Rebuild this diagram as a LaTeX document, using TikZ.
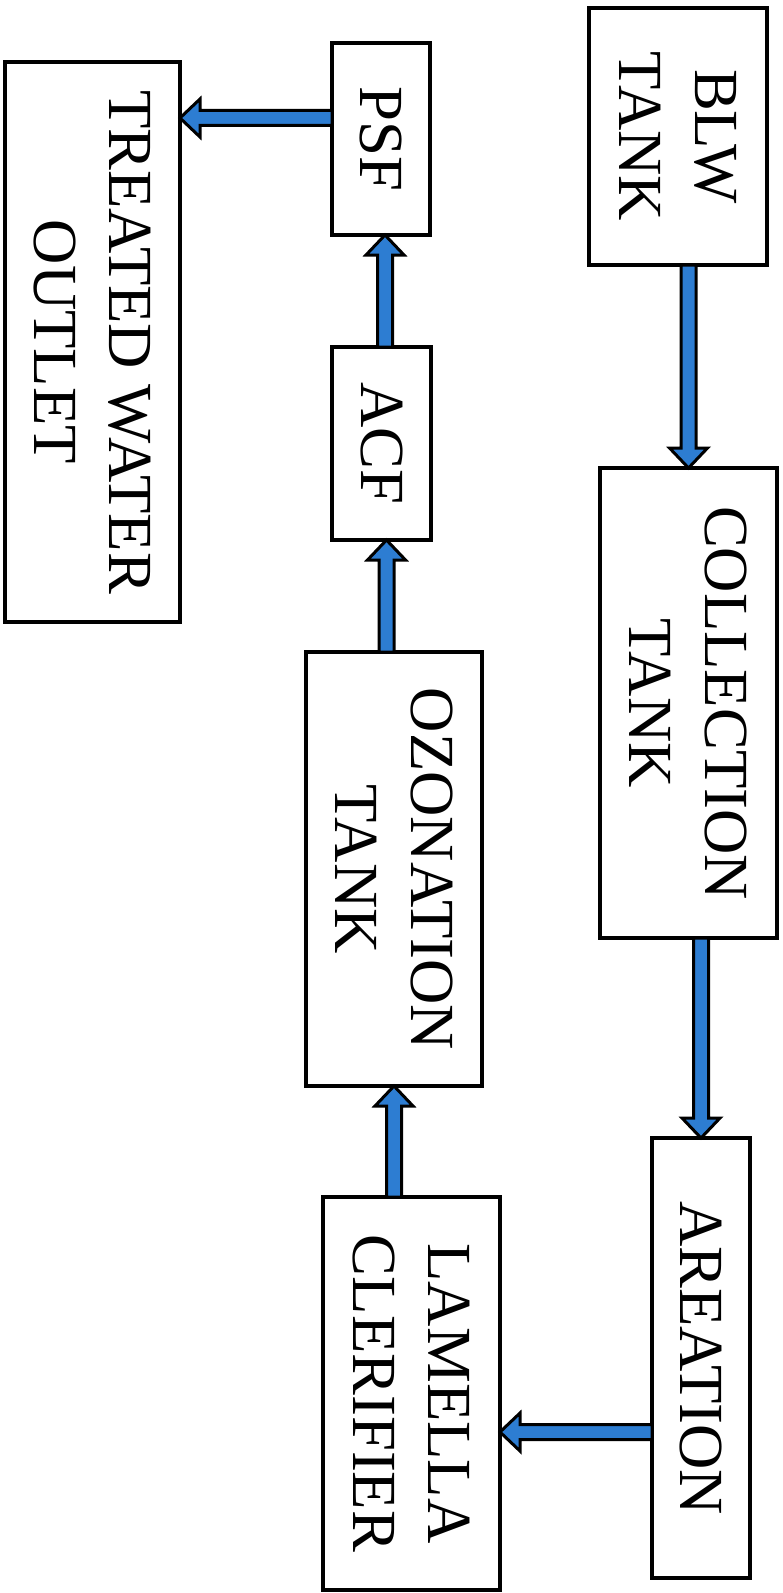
\documentclass[tikz,border=0pt]{standalone}
\usepackage{fontspec}
\setmainfont{Liberation Serif}
\usetikzlibrary{calc}
\definecolor{flowblue}{RGB}{45,125,210}
\tikzset{
  boxnode/.style={draw=black, line width=3.6bp, fill=white, inner sep=0pt, outer sep=0pt},
  boxlabel/.style={rotate=-90, align=center, inner sep=0pt, font=\fontsize{63}{76}\selectfont},
  flowarr/.style={draw=black, fill=flowblue, line width=3bp, line join=miter}
}
\newcommand{\flowarrow}[2]{%
  \coordinate (fa-s) at (#1);
  \coordinate (fa-e) at (#2);
  \coordinate (fa-b) at ($(fa-e)!20bp!(fa-s)$);
  \draw[flowarr] ($(fa-s)!7.5bp!90:(fa-e)$) -- ($(fa-b)!7.5bp!90:(fa-e)$) -- ($(fa-b)!19bp!90:(fa-e)$) -- (fa-e) -- ($(fa-b)!19bp!-90:(fa-e)$) -- ($(fa-b)!7.5bp!-90:(fa-e)$) -- ($(fa-s)!7.5bp!-90:(fa-e)$) -- cycle;
}
\begin{document}
\begin{tikzpicture}[x=1bp, y=1bp]
\useasboundingbox[fill=white] (0,0) rectangle (783,-1593);
% boxes
\node[boxnode, minimum width=178bp, minimum height=257bp] (blw) at (678,-136.5) {};
\node[boxnode, minimum width=177bp, minimum height=470bp] (coll) at (688.5,-703) {};
\node[boxnode, minimum width=98bp, minimum height=440bp] (aer) at (701,-1358) {};
\node[boxnode, minimum width=177bp, minimum height=393bp] (lam) at (411.5,-1393.5) {};
\node[boxnode, minimum width=176bp, minimum height=434bp] (oz) at (394,-869) {};
\node[boxnode, minimum width=99bp, minimum height=193bp] (acf) at (381.5,-443.5) {};
\node[boxnode, minimum width=98bp, minimum height=192bp] (psf) at (381,-139) {};
\node[boxnode, minimum width=175bp, minimum height=560bp] (tw) at (92.5,-342) {};
% labels
\node[boxlabel] (blw-t) at (blw) {BLW\\TANK};
\node[boxlabel] (coll-t) at (coll) {COLLECTION\\TANK};
\node[boxlabel] (aer-t) at (aer) {AREATION};
\node[boxlabel] (lam-t) at (lam) {LAMELLA\\CLERIFIER};
\node[boxlabel] (oz-t) at (oz) {OZONATION\\TANK};
\node[boxlabel] (acf-t) at (acf) {ACF};
\node[boxlabel] (psf-t) at (psf) {PSF};
\node[boxlabel] (tw-t) at (tw) {TREATED WATER\\OUTLET};
% connectors
\flowarrow{blw.south -| coll.north}{coll.north}
\flowarrow{coll.south -| aer.north}{aer.north}
\coordinate (a3s) at ([yshift=-74bp]aer.west);
\flowarrow{a3s}{lam.east |- a3s}
\flowarrow{lam.north -| oz.south}{oz.south}
\coordinate (a5e) at ([xshift=5bp]acf.south);
\flowarrow{oz.north -| a5e}{a5e}
\coordinate (a6e) at ([xshift=4bp]psf.south);
\flowarrow{acf.north -| a6e}{a6e}
\coordinate (a7s) at ([yshift=21bp]psf.west);
\flowarrow{a7s}{tw.east |- a7s}
\end{tikzpicture}
\end{document}
